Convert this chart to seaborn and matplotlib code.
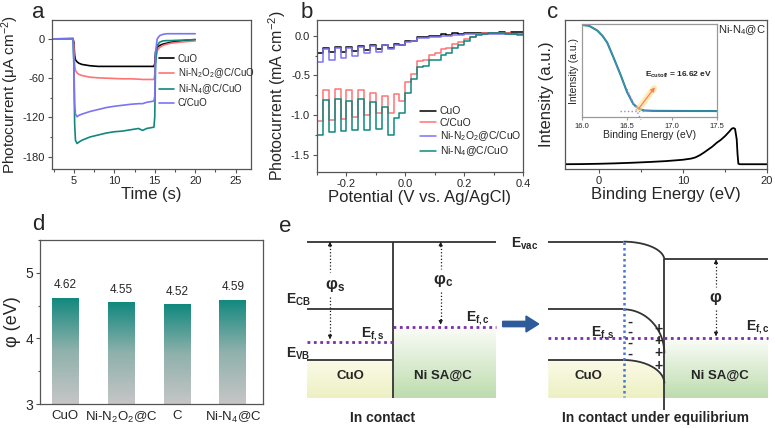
import numpy as np
import pandas as pd
import matplotlib
matplotlib.use("Agg")
import matplotlib.pyplot as plt
import matplotlib.ticker as mticker
import seaborn as sns
from matplotlib.colors import LinearSegmentedColormap
from matplotlib.patches import Polygon, FancyArrow

# ---------------- data ----------------
# (a) transient photocurrent, uA cm-2
time_s = [2.3, 4.9, 5.0, 5.1, 5.2, 5.4, 5.6, 6.0, 7.0, 8.0, 9.0, 10.0, 11.0, 12.0,
          13.0, 13.5, 14.0, 14.9, 15.0, 15.1, 15.3, 15.6, 16.0, 16.5, 17.0, 18.0, 19.0, 20.0]
cuo_it = [0, 0, -5, -25, -32, -35, -37, -39, -41, -42, -42, -42, -42, -42,
          -42, -42, -42, -42, -38, -20, -13, -10, -8, -6.5, -5, -3.5, -2, -1]
n2o2_it = [0, 0, -10, -40, -48, -52, -54, -56, -58.5, -59.5, -60, -60.5, -61, -61,
           -61.5, -62, -62, -62, -55, -30, -18, -13, -10, -8, -6.5, -5, -4, -3]
n4_it = [0, 1, -40, -130, -155, -160, -158, -155, -150, -147, -144, -142, -141, -139,
         -137, -140, -137, -135, -120, -40, -10, -5, -3, -2.5, -2.5, -2, -1.5, -1]
c_it = [0, 0, -30, -100, -115, -119, -117, -115, -111, -108, -105, -103, -101.5, -100,
        -99, -99, -97, -95, -88, -20, 0, 5, 7, 8, 8, 8, 8, 8]

# (b) chopped LSV, mA cm-2 (one level per chop segment)
chop_edges = [-0.30, -0.28, -0.26, -0.24, -0.22, -0.20, -0.18, -0.16, -0.14, -0.12,
              -0.10, -0.08, -0.06, -0.04, -0.02, 0.00, 0.02, 0.04, 0.06, 0.08,
              0.10, 0.12, 0.14, 0.16, 0.18, 0.20, 0.22, 0.24, 0.26, 0.28,
              0.30, 0.32, 0.34, 0.36, 0.38, 0.40]
cuo_lsv = [-0.22, -0.15, -0.21, -0.14, -0.20, -0.14, -0.19, -0.13, -0.18, -0.12,
           -0.17, -0.11, -0.15, -0.10, -0.11, -0.07, -0.06, -0.02, -0.02, 0.00,
           0.00, 0.02, 0.01, 0.03, 0.02, 0.03, 0.03, 0.04, 0.03, 0.04,
           0.04, 0.05, 0.04, 0.05, 0.05]
c_lsv = [-1.08, -0.68, -1.06, -0.67, -1.05, -0.68, -1.03, -0.69, -1.00, -0.72,
         -0.98, -0.76, -0.97, -0.74, -0.82, -0.58, -0.48, -0.32, -0.30, -0.24,
         -0.22, -0.17, -0.15, -0.10, -0.08, -0.04, -0.01, 0.02, 0.03, 0.03,
         0.03, 0.03, 0.03, 0.02, 0.02]
n2o2_lsv = [-0.33, -0.17, -0.30, -0.16, -0.28, -0.15, -0.25, -0.14, -0.22, -0.13,
            -0.20, -0.12, -0.17, -0.11, -0.12, -0.08, -0.07, -0.03, -0.03, -0.01,
            -0.01, 0.00, 0.00, 0.01, 0.01, 0.02, 0.02, 0.02, 0.02, 0.02,
            0.02, 0.02, 0.02, 0.02, 0.02]
n4_lsv = [-1.25, -0.81, -1.21, -0.80, -1.20, -0.82, -1.19, -0.80, -1.19, -0.84,
          -1.18, -0.90, -1.25, -1.04, -0.98, -0.72, -0.55, -0.40, -0.38, -0.31,
          -0.30, -0.24, -0.22, -0.16, -0.12, -0.06, -0.02, 0.01, 0.02, 0.03,
          0.03, 0.03, 0.02, 0.02, 0.01]

# (c) UPS spectrum (normalised intensity)
be_main = [-4, -2, 0, 2, 4, 6, 8, 10, 11, 11.5, 12, 12.5, 13, 13.5, 14, 14.5, 15,
           15.5, 15.8, 16.0, 16.2, 16.4, 16.5, 16.6, 16.8, 18, 20]
int_main = [0.032, 0.033, 0.035, 0.038, 0.042, 0.047, 0.053, 0.062, 0.07, 0.078,
            0.092, 0.11, 0.13, 0.15, 0.175, 0.195, 0.22, 0.25, 0.27, 0.275, 0.27,
            0.2, 0.1, 0.035, 0.032, 0.032, 0.032]
be_inset = [16.0, 16.08, 16.17, 16.23, 16.28, 16.35, 16.43, 16.5, 16.57, 16.63,
            16.69, 16.8, 17.0, 17.5]
int_inset = [0.99, 0.98, 0.93, 0.87, 0.80, 0.64, 0.45, 0.27, 0.14, 0.09,
             0.07, 0.066, 0.065, 0.064]
e_cutoff = 16.62

# (d) work function
phi_labels = ["CuO", "Ni-N$_2$O$_2$@C", "C", "Ni-N$_4$@C"]
phi_values = [4.62, 4.55, 4.52, 4.59]

# ---------------- style ----------------
W, H = 775, 428
TEAL = "#10887e"
RED = "#ff7373"
BLUE = "#7b74f2"
BLACK = "#000000"
FRAME = "#555555"

sns.set_theme(style="ticks")
plt.rcParams["font.family"] = ["Liberation Sans", "DejaVu Sans"]
plt.rcParams["mathtext.fontset"] = "custom"
plt.rcParams["mathtext.rm"] = "Liberation Sans"
plt.rcParams["mathtext.it"] = "Liberation Sans:italic"
plt.rcParams["mathtext.bf"] = "Liberation Sans:bold"
plt.rcParams["axes.unicode_minus"] = False


def rect_px(l, t, r, b):
    return [l / W, 1 - b / H, (r - l) / W, (b - t) / H]


def frame(ax, color=FRAME, labelsize=8):
    for s in ax.spines.values():
        s.set_visible(True)
        s.set_color(color)
        s.set_linewidth(0.9)
    ax.tick_params(which="both", direction="out", color=color, width=0.8,
                   labelsize=labelsize, pad=2)
    ax.tick_params(which="major", length=3)
    ax.tick_params(which="minor", length=1.8)


fig = plt.figure(figsize=(W / 100, H / 100), dpi=100)

# ---------------- (a) ----------------
ax = fig.add_axes(rect_px(52, 20, 251, 169))
names_a = ["CuO", "Ni-N$_2$O$_2$@C/CuO", "Ni-N$_4$@C/CuO", "C/CuO"]
df_a = pd.DataFrame({
    "t": time_s * 4,
    "I": cuo_it + n2o2_it + n4_it + c_it,
    "sample": sum([[n] * len(time_s) for n in names_a], []),
})
sns.lineplot(data=df_a, x="t", y="I", hue="sample", hue_order=names_a,
             palette=[BLACK, RED, TEAL, BLUE], estimator=None, sort=False,
             lw=1.2, ax=ax)
h, l = ax.get_legend_handles_labels()
ax.legend(h, l, loc="upper left", bbox_to_anchor=(0.52, 0.80), frameon=False,
          fontsize=7, handlelength=1.5, labelspacing=0.25, handletextpad=0.4,
          borderaxespad=0)
ax.set_xlim(2.3, 26.9)
ax.set_ylim(-199, 29)
ax.xaxis.set_major_locator(mticker.MultipleLocator(5))
ax.xaxis.set_minor_locator(mticker.MultipleLocator(2.5))
ax.yaxis.set_major_locator(mticker.MultipleLocator(60))
ax.yaxis.set_minor_locator(mticker.MultipleLocator(30))
ax.set_xlabel("Time (s)", fontsize=12, labelpad=1)
ax.set_ylabel("Photocurrent (μA cm$^{-2}$)", fontsize=11, labelpad=1)
frame(ax)

# ---------------- (b) ----------------
ax = fig.add_axes(rect_px(317, 20, 523, 172))
names_b = ["CuO", "C/CuO", "Ni-N$_2$O$_2$@C/CuO", "Ni-N$_4$@C/CuO"]
series_b = [cuo_lsv, c_lsv, n2o2_lsv, n4_lsv]
df_b = pd.DataFrame({
    "E": chop_edges * 4,
    "J": sum([s + [s[-1]] for s in series_b], []),
    "sample": sum([[n] * len(chop_edges) for n in names_b], []),
})
sns.lineplot(data=df_b, x="E", y="J", hue="sample", hue_order=names_b,
             palette=[BLACK, RED, BLUE, TEAL], estimator=None, sort=False,
             drawstyle="steps-post", lw=1.1, ax=ax)
h, l = ax.get_legend_handles_labels()
ax.legend(h, l, loc="upper left", bbox_to_anchor=(0.48, 0.46), frameon=False,
          fontsize=7.5, handlelength=1.5, labelspacing=0.15, handletextpad=0.4,
          borderaxespad=0)
ax.set_xlim(-0.3, 0.4)
ax.set_ylim(-1.72, 0.2)
ax.xaxis.set_major_locator(mticker.MultipleLocator(0.2))
ax.xaxis.set_minor_locator(mticker.MultipleLocator(0.1))
ax.yaxis.set_major_locator(mticker.MultipleLocator(0.5))
ax.yaxis.set_minor_locator(mticker.MultipleLocator(0.25))
ax.xaxis.set_major_formatter(mticker.FormatStrFormatter("%.1f"))
ax.yaxis.set_major_formatter(mticker.FormatStrFormatter("%.1f"))
ax.set_xlabel("Potential (V vs. Ag/AgCl)", fontsize=12, labelpad=1)
ax.set_ylabel("Photocurrent (mA cm$^{-2}$)", fontsize=11.5, labelpad=2)
frame(ax)

# ---------------- (c) ----------------
ax = fig.add_axes(rect_px(565, 20, 767, 169))
sns.lineplot(x=be_main, y=int_main, color=BLACK, lw=1.3, ax=ax)
ax.set_xlim(-4, 20)
ax.set_ylim(0, 1)
ax.xaxis.set_major_locator(mticker.MultipleLocator(10))
ax.xaxis.set_minor_locator(mticker.MultipleLocator(5))
ax.set_yticks([])
ax.set_xlabel("Binding Energy (eV)", fontsize=12, labelpad=1)
ax.set_ylabel("Intensity (a.u.)", fontsize=12, labelpad=8)
ax.text(0.876, 0.935, "Ni-N$_4$@C", transform=ax.transAxes, fontsize=8,
        ha="center", va="center")
frame(ax)

axi = fig.add_axes(rect_px(582, 24, 717, 117))
sns.lineplot(x=be_inset, y=int_inset, color=TEAL, lw=1.5, ax=axi)
sns.lineplot(x=be_inset, y=int_inset, color="#6a86e0", lw=0.5, ax=axi)
axi.plot([16.42, 16.70], [0.065, 0.065], ls=":", color="#8a8ae6", lw=1)
axi.plot([16.50, 16.655], [0.30, -0.03], ls=":", color="#8a8ae6", lw=1, clip_on=False)
axi.plot([e_cutoff + 0.01, 16.80], [0.09, 0.31], color="#ffe27a", lw=4.5,
         alpha=0.6, solid_capstyle="round")
axi.annotate("", xy=(16.81, 0.32), xytext=(e_cutoff + 0.01, 0.09),
             arrowprops=dict(arrowstyle="-|>", color="#ff7b6b", lw=0.9,
                             mutation_scale=6, shrinkA=0, shrinkB=0))
axi.text(16.70, 0.45, r"$\mathbf{E_{cutoff}}$" + f" = {e_cutoff:.2f} eV",
         fontsize=6, fontweight="bold", va="center")
axi.set_xlim(16.0, 17.5)
axi.set_ylim(0, 1.0)
axi.xaxis.set_major_locator(mticker.MultipleLocator(0.5))
axi.xaxis.set_major_formatter(mticker.FormatStrFormatter("%.1f"))
axi.set_yticks([])
axi.set_xlabel("Binding Energy (eV)", fontsize=7.5, labelpad=0)
axi.set_ylabel("Intensity (a.u.)", fontsize=7.5, labelpad=2)
frame(axi, color="#999999", labelsize=5.5)
axi.tick_params(which="major", length=2)

# ---------------- (d) ----------------
ax = fig.add_axes(rect_px(40, 240, 263, 404))
sns.barplot(x=phi_labels, y=phi_values, width=0.48, color=TEAL, saturation=1,
            ax=ax)
bar_cmap = LinearSegmentedColormap.from_list("bar", ["#c6c6c6", "#8fb1ac", TEAL])
grad = np.linspace(0, 1, 256).reshape(-1, 1)
for bar in ax.patches:
    x0, w, top = bar.get_x(), bar.get_width(), bar.get_height()
    im = ax.imshow(grad, extent=(x0, x0 + w, 3, top), origin="lower",
                   aspect="auto", cmap=bar_cmap, zorder=2)
    im.set_clip_path(bar)
    bar.set_facecolor("none")
    bar.set_edgecolor("none")
for i, v in enumerate(phi_values):
    ax.text(i, v + 0.1, f"{v:.2f}", ha="center", va="bottom", fontsize=8.5)
ax.set_xlim(-0.45, 3.54)
ax.set_ylim(3, 5.5)
ax.yaxis.set_major_locator(mticker.MultipleLocator(1))
ax.yaxis.set_minor_locator(mticker.MultipleLocator(0.5))
ax.set_ylabel("φ (eV)", fontsize=13, labelpad=3)
frame(ax, labelsize=9.5)
ax.tick_params(axis="x", length=0, pad=4)
ax.tick_params(axis="y", labelsize=10)

# ---------------- (e) schematic ----------------
ax = fig.add_axes([270 / W, 0, 505 / W, 218 / H])
ax.set_xlim(0, 1515)
ax.set_ylim(654, 0)
ax.axis("off")

yellow = LinearSegmentedColormap.from_list("y", ["#fbfbe9", "#eef0c2"])
green = LinearSegmentedColormap.from_list("g", ["#fbfdf9", "#bddcad"])
vgrad = np.linspace(0, 1, 256).reshape(-1, 1)
LINE = dict(color="#333333", lw=1.3, solid_capstyle="butt", zorder=3)
PURPLE = dict(color="#7a2fa8", lw=2.0, ls=(0, (1, 1.3)), zorder=3)


def grad_fill(pts, cmap):
    xs, ys = zip(*pts)
    poly = Polygon(pts, closed=True, transform=ax.transData)
    im = ax.imshow(vgrad, extent=(min(xs), max(xs), max(ys), min(ys)),
                   origin="upper", aspect="auto", cmap=cmap, zorder=1)
    im.set_clip_path(poly)


def bend(x0, y0, x1, y1):
    t = np.linspace(0, np.pi / 2, 60)
    return x0 + (x1 - x0) * np.sin(t), y0 + (y1 - y0) * (1 - np.cos(t))


def gap_arrow(x, y_top, y_bot, g0, g1):
    ax.plot([x, x], [y_top + 10, g0], ls=":", color="k", lw=0.9, zorder=3)
    ax.plot([x, x], [g1, y_bot - 10], ls=":", color="k", lw=0.9, zorder=3)
    for tip, d in ((y_top, 1), (y_bot, -1)):
        ax.annotate("", xy=(x, tip), xytext=(x, tip + 16 * d),
                    arrowprops=dict(arrowstyle="-|>", color="k", lw=0.6,
                                    mutation_scale=6, shrinkA=0, shrinkB=0))


# left: in contact
vac, cb, vb, efs, efc, bot = 95, 298, 450, 396, 350, 565
lx0, lj, lx1 = 112, 370, 678
grad_fill([(lx0, vb), (lj, vb), (lj, bot), (lx0, bot)], yellow)
grad_fill([(lj, efc), (lx1, efc), (lx1, bot), (lj, bot)], green)
ax.plot([lx0, lx1], [vac, vac], **LINE)
ax.plot([lj, lj], [vac, bot], **LINE)
ax.plot([lx0, lj], [cb, cb], **LINE)
ax.plot([lx0, lj], [vb, vb], **LINE)
ax.plot([lx0, lj], [efs, efs], **PURPLE)
ax.plot([lj, lx1], [efc, efc], **PURPLE)
gap_arrow(180, vac, efs - 8, 185, 262)
gap_arrow(512, vac, efc - 6, 178, 246)

# right: under equilibrium
rx0, rb, rj, rx1 = 835, 1060, 1183, 1495
r_vac, r_ef = 148, 385
vb_x, vb_y = bend(rb, vb, rj, 520)
grad_fill([(rx0, vb), (rb, vb)] + list(zip(vb_x, vb_y)) + [(rj, bot), (rx0, bot)], yellow)
grad_fill([(rj, r_ef), (rx1, r_ef), (rx1, bot), (rj, bot)], green)
for y0, y1 in ((vac, 150), (cb, 430)):
    bx, by = bend(rb, y0, rj, y1)
    ax.plot([rx0, rb], [y0, y0], **LINE)
    ax.plot(bx, by, **LINE)
ax.plot([rx0, rb], [vb, vb], **LINE)
ax.plot(vb_x, vb_y, **LINE)
ax.plot([rj, rx1], [r_vac, r_vac], **LINE)
ax.plot([rj, rj], [r_vac, 600], **LINE)
ax.plot([rx0, rj], [r_ef, r_ef], **PURPLE)
ax.plot([rj, rx1], [r_ef, r_ef], **PURPLE)
ax.plot([1062, 1062], [vac, 562], color="#4a78c8", lw=1.8, ls=(0, (1, 1.2)), zorder=4)
gap_arrow(1338, r_vac, r_ef - 6, 232, 300)
# space charges: one text per column so the stacked signs stay one label
ax.text(1080, 383, "-\n-\n-\n-", fontsize=11, fontweight="bold", ha="center",
        va="center", linespacing=0.72, zorder=5)
ax.text(1165, 412, "+\n+\n+\n+", fontsize=10, fontweight="bold", ha="center",
        va="center", linespacing=0.84, zorder=5)

ax.add_patch(FancyArrow(698, 342, 108, 0, width=16, head_width=48, head_length=38,
                        length_includes_head=True, color="#2e5b9a", zorder=3))

TXT = dict(fontsize=10, fontweight="bold", ha="center", va="center", zorder=5)
ax.text(765, 100, r"$\mathbf{E_{vac}}$", **TXT)
ax.text(85, 268, r"$\mathbf{E_{CB}}$", **TXT)
ax.text(85, 432, r"$\mathbf{E_{VB}}$", **TXT)
ax.text(310, 372, r"$\mathbf{E_{f,s}}$", **TXT)
ax.text(625, 325, r"$\mathbf{E_{f,c}}$", **TXT)
ax.text(1000, 370, r"$\mathbf{E_{f,s}}$", **TXT)
ax.text(1465, 352, r"$\mathbf{E_{f,c}}$", **TXT)
ax.text(195, 225, r"$\mathbf{φ_s}$", fontsize=12, ha="center", va="center", zorder=5)
ax.text(520, 212, r"$\mathbf{φ_c}$", fontsize=12, ha="center", va="center", zorder=5)
ax.text(1338, 265, r"$\mathbf{φ}$", fontsize=12, ha="center", va="center", zorder=5)
ax.text(240, 497, "CuO", **dict(TXT, fontsize=9.5))
ax.text(520, 497, "Ni SA@C", **dict(TXT, fontsize=9.5))
ax.text(955, 497, "CuO", **dict(TXT, fontsize=9.5))
ax.text(1350, 497, "Ni SA@C", **dict(TXT, fontsize=9.5))
ax.text(338, 624, "In contact", **TXT)
ax.text(1157, 624, "In contact under equilibrium", **TXT)

# panel letters
for letter, x, y in (("a", 38, 13), ("b", 307, 13), ("c", 553, 13),
                     ("d", 38, 225), ("e", 285, 227)):
    fig.text(x / W, 1 - y / H, letter, fontsize=16, ha="center", va="center")

fig.savefig("out.png", dpi=100)
